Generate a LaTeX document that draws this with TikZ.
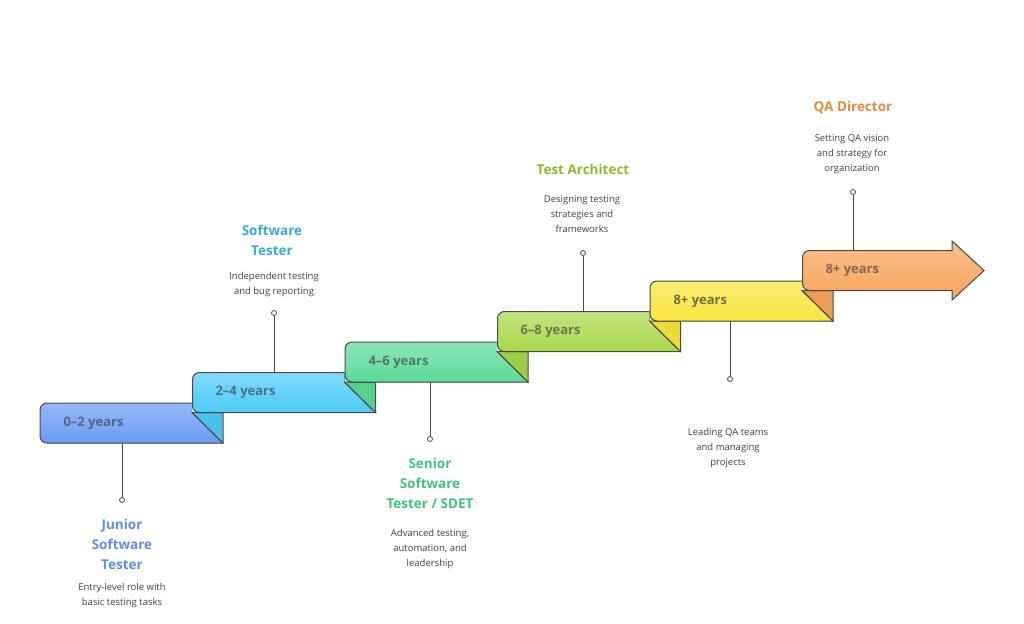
\documentclass[tikz,border=0pt]{standalone}
\usepackage{fontspec}
\setmainfont{Open Sans}
\usetikzlibrary{positioning}
\definecolor{cBlue}{HTML}{6A9BF5}
\definecolor{cCyan}{HTML}{4CCBF7}
\definecolor{cGreen}{HTML}{5ADB96}
\definecolor{cLime}{HTML}{A8D84A}
\definecolor{cYellow}{HTML}{F7E53A}
\definecolor{cOrange}{HTML}{F7A45A}
\definecolor{tBlue}{HTML}{5B8DEF}
\definecolor{tCyan}{HTML}{36A9D6}
\definecolor{tGreen}{HTML}{3CC47C}
\definecolor{tLime}{HTML}{8DBA2E}
\definecolor{tOrange}{HTML}{E8893A}
\definecolor{edge}{HTML}{4A4A4A}
\tikzset{
    ribbon/.style={draw=edge, line width=1pt, rounded corners=7pt}, % step band
    fold/.style={draw=edge, line width=1pt},
    years/.style={font=\bfseries\fontsize{13}{15}\selectfont, text=#1!40!black!80, anchor=west},
    title/.style={font=\bfseries\fontsize{13.5}{20}\selectfont, text=#1, align=center},
    desc/.style={font=\fontsize{9.5}{15}\selectfont, text=black!75, align=center},
    dot/.style={circle, draw=edge, line width=0.8pt, fill=white, inner sep=0pt, minimum size=5pt},
    leader/.style={draw=edge, line width=1pt},
}
\begin{document}
\begin{tikzpicture}[x=1pt, y=-1pt]
    \useasboundingbox (0,0) rectangle (1024,623);
    % ribbons, drawn from left to right
    \foreach \i/\c/\d in {0/cBlue/cCyan, 1/cCyan/cGreen, 2/cGreen/cLime, 3/cLime/cYellow, 4/cYellow/cOrange}{
        \pgfmathsetmacro{\xa}{40+152.5*\i}
        \pgfmathsetmacro{\ya}{403-30.5*\i}
        \fill[top color=\c!70!white, bottom color=\c, rounded corners=7pt]
            (\xa+30,\ya) -- (\xa,\ya) -- (\xa,\ya+40) -- (\xa+30,\ya+40) [sharp corners] -- (\xa+183,\ya+40) -- (\xa+152,\ya+9.5) -- (\xa+152,\ya) -- cycle;
        \draw[ribbon] (\xa+152,\ya) -- (\xa,\ya) -- (\xa,\ya+40) [sharp corners] -- (\xa+183,\ya+40) -- (\xa+152,\ya+9.5);
        \fill[\d!95!black] (\xa+152,\ya+9.5) -- (\xa+183,\ya+9.5) -- (\xa+183,\ya+40) -- cycle;
        \draw[fold] (\xa+152,\ya+9.5) -- (\xa+183,\ya+9.5) -- (\xa+183,\ya+40) -- cycle;
    }
    % last step is the arrow
    \fill[top color=cOrange!70!white, bottom color=cOrange, rounded corners=7pt]
        (830,250.5) -- (802.5,250.5) -- (802.5,290.5) [sharp corners] -- (952,290.5) -- (952,300) -- (984,270.5) -- (952,241) -- (952,250.5) -- cycle;
    \draw[ribbon] (830,250.5) -- (802.5,250.5) -- (802.5,290.5) [sharp corners] -- (952,290.5) -- (952,300) -- (984,270.5) -- (952,241) -- (952,250.5) -- (830,250.5);
    % year labels
    \node[years=cBlue] (y1) at (60,423) {0–2 years};
    \node[years=cCyan] (y2) at (212,392.5) {2–4 years};
    \node[years=cGreen] (y3) at (365,362) {4–6 years};
    \node[years=cLime] (y4) at (517,331.5) {6–8 years};
    \node[years=cYellow!80!black] (y5) at (670,301) {8+ years};
    \node[years=cOrange] (y6) at (822,270.5) {8+ years};
    % leaders and dots
    \coordinate (e1) at (122,443);
    \coordinate (e2) at (274,372.5);
    \coordinate (e3) at (430,382);
    \coordinate (e4) at (583,311.5);
    \coordinate (e5) at (730,321);
    \coordinate (e6) at (853,250.5);
    \node[dot] (d1) at (122,500) {};
    \node[dot] (d2) at (274,313) {};
    \node[dot] (d3) at (430,439) {};
    \node[dot] (d4) at (583,253) {};
    \node[dot] (d5) at (730,379) {};
    \node[dot] (d6) at (853,192) {};
    \foreach \n in {1,...,6}{\draw[leader] (e\n) -- (d\n);}
    % texts
    \node[title=tBlue] (t1) at (122,544) {Junior\\Software\\Tester};
    \node[desc] (s1) at (122,596) {Entry-level role with\\basic testing tasks};
    \node[desc] (s2) at (274,285) {Independent testing\\and bug reporting};
    \node[title=tCyan] (t2) at (272,240) {Software\\Tester};
    \node[title=tGreen] (t3) at (430,483) {Senior\\Software\\Tester / SDET};
    \node[desc] (s3) at (430,549) {Advanced testing,\\automation, and\\leadership};
    \node[desc] (s4) at (582,214) {Designing testing\\strategies and\\frameworks};
    \node[title=tLime] (t4) at (583,169) {Test Architect};
    \node[desc] (s5) at (728,448) {Leading QA teams\\and managing\\projects};
    \node[desc] (s6) at (852,154) {Setting QA vision\\and strategy for\\organization};
    \node[title=tOrange] (t6) at (853,108) {QA Director};
\end{tikzpicture}
\end{document}
